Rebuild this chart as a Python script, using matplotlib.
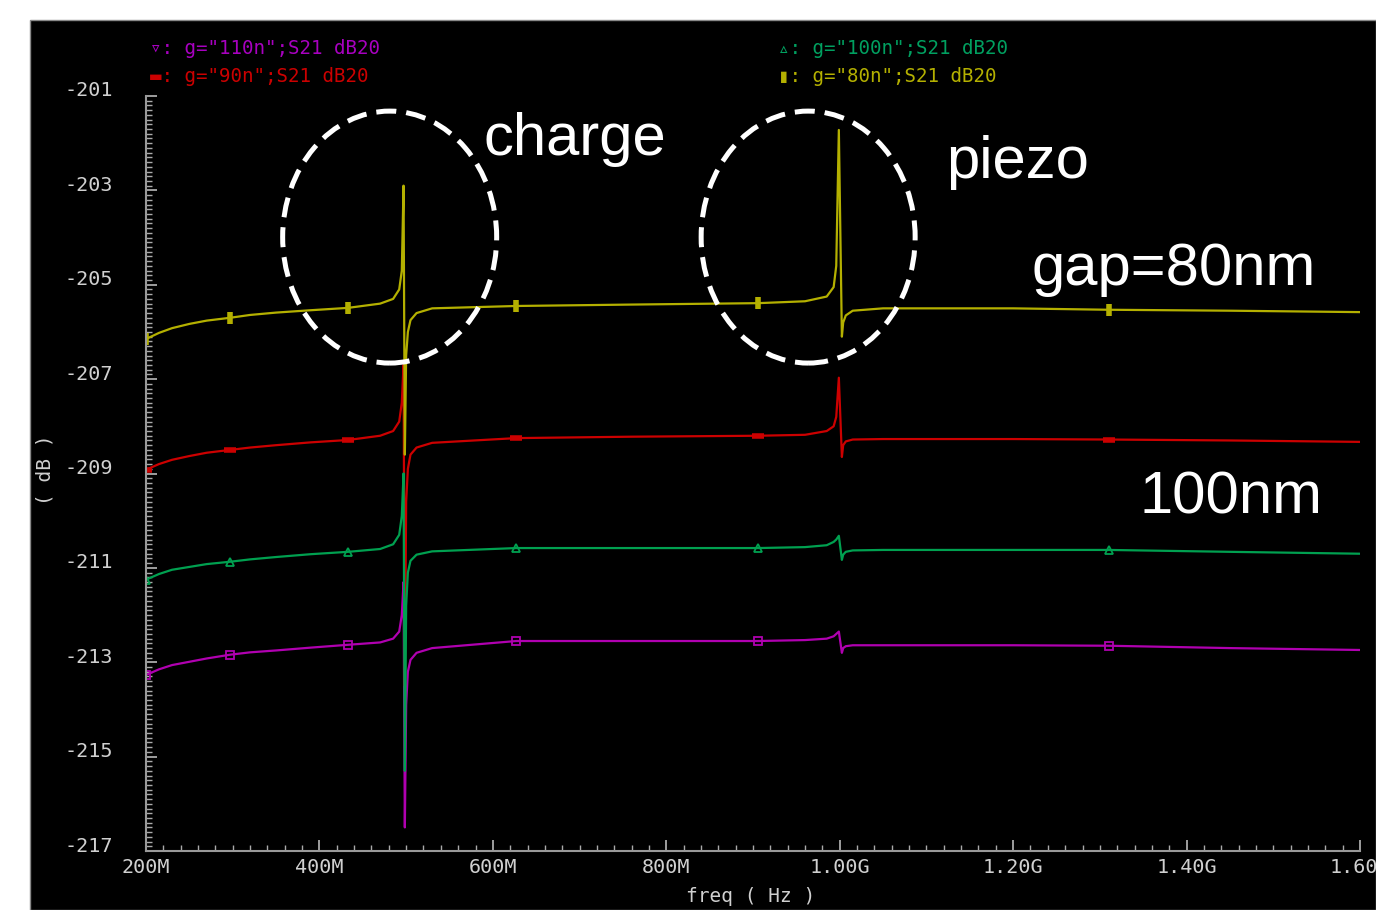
import numpy as np
import matplotlib.pyplot as plt
from matplotlib.patches import Ellipse, Rectangle
from matplotlib.transforms import ScaledTranslation

# frequency grid (MHz)
freq_mhz = [200, 215, 230, 250, 270, 297, 320, 350, 390, 433, 470, 485, 492, 495, 497, 498.5,
            500, 502, 505, 512, 530, 627, 760, 906, 960, 985, 993, 996, 999, 1002.5, 1004, 1007,
            1015, 1050, 1200, 1310, 1450, 1600]

s21_80n = [-206.15, -206.02, -205.92, -205.83, -205.76, -205.70, -205.64, -205.59, -205.54, -205.49,
           -205.40, -205.30, -205.10, -204.70, -202.90, -208.60, -206.50, -206.00, -205.75, -205.60,
           -205.50, -205.45, -205.42, -205.39, -205.35, -205.25, -205.05, -204.60, -201.72, -206.10,
           -205.80, -205.65, -205.55, -205.50, -205.50, -205.53, -205.55, -205.58]
s21_90n = [-208.92, -208.80, -208.71, -208.63, -208.56, -208.50, -208.45, -208.40, -208.34, -208.29,
           -208.20, -208.10, -207.90, -207.50, -206.70, -213.50, -209.60, -208.90, -208.60, -208.45,
           -208.35, -208.25, -208.22, -208.20, -208.18, -208.10, -208.00, -207.80, -206.97, -208.65,
           -208.40, -208.32, -208.28, -208.27, -208.27, -208.28, -208.30, -208.33]
s21_100n = [-211.25, -211.13, -211.04, -210.98, -210.92, -210.87, -210.82, -210.77, -210.71, -210.66,
            -210.60, -210.50, -210.30, -209.90, -209.00, -215.30, -211.80, -211.10, -210.85, -210.72,
            -210.65, -210.58, -210.58, -210.58, -210.56, -210.52, -210.45, -210.40, -210.32, -210.83,
            -210.72, -210.66, -210.63, -210.62, -210.62, -210.62, -210.66, -210.70]
s21_110n = [-213.27, -213.15, -213.06, -212.99, -212.92, -212.84, -212.79, -212.75, -212.69, -212.63,
            -212.58, -212.50, -212.35, -212.00, -211.30, -216.50, -213.90, -213.20, -212.95, -212.80,
            -212.70, -212.55, -212.55, -212.55, -212.53, -212.50, -212.45, -212.40, -212.35, -212.80,
            -212.70, -212.66, -212.64, -212.64, -212.64, -212.65, -212.70, -212.74]

marker_mhz = [200, 297, 433, 627, 906, 1310]

xtick_mhz = [200, 400, 600, 800, 1000, 1200, 1400, 1600]
xtick_labels = ["200M", "400M", "600M", "800M", "1.00G", "1.20G", "1.40G", "1.60G"]
ytick_vals = [-201, -203, -205, -207, -209, -211, -213, -215, -217]

legend_txt = ['▿: g="110n";S21 dB20', '▬: g="90n";S21 dB20',
              '▵: g="100n";S21 dB20', '▮: g="80n";S21 dB20']

W, H = 1376, 910
fig = plt.figure(figsize=(W / 100, H / 100), dpi=100, facecolor="white")
fig.patches.append(Rectangle((30 / W, 0), 1 - 30 / W, 1 - 20 / H, transform=fig.transFigure,
                             facecolor="black", edgecolor="#888888", lw=1, zorder=-1))

ax = fig.add_axes([146 / W, 1 - 851 / H, (1360 - 146) / W, (851 - 96) / H])
ax.set_facecolor("black")

f = np.array(freq_mhz) * 1e6
mk = np.where(np.isin(freq_mhz, marker_mhz))[0]

mono = ["DejaVu Sans Mono", "DejaVu Sans"]

ax.plot(f, s21_110n, color="#b000b0", lw=1.6, marker="s", ms=6, mfc="none", mew=1.3, markevery=mk)
ax.plot(f, s21_90n, color="#cc0000", lw=1.6, marker="_", ms=9, mew=4, markevery=mk)
ax.plot(f, s21_100n, color="#00a050", lw=1.6, marker="^", ms=6, mfc="none", mew=1.3, markevery=mk)
ax.plot(f, s21_80n, color="#b4b000", lw=1.6, marker="|", ms=9, mew=4, markevery=mk)

ax.set_xlim(200e6, 1600e6)
ax.set_ylim(-217, -201)

ax.set_xticks(np.array(xtick_mhz) * 1e6)
ax.set_xticklabels(xtick_labels, family=mono, fontsize=14.5)
ax.set_xticks(np.arange(200, 1601, 20) * 1e6, minor=True)
ax.set_yticks(ytick_vals)
ax.set_yticklabels([str(v) for v in ytick_vals], family=mono, fontsize=14.5)
ax.set_yticks(np.arange(-217, -200.95, 0.1), minor=True)

ax.tick_params(which="both", direction="in", color="#aaaaaa", labelcolor="#d0d0d0")
ax.tick_params(which="major", length=8, width=1.3)
ax.tick_params(which="minor", length=4, width=1)
ax.tick_params(axis="y", pad=24)
ax.tick_params(axis="x", pad=5)
for lab in ax.get_yticklabels():
    lab.set_transform(lab.get_transform() + ScaledTranslation(0, 7 / 100, fig.dpi_scale_trans))

for s in ["top", "right"]:
    ax.spines[s].set_visible(False)
for s in ["left", "bottom"]:
    ax.spines[s].set_color("#999999")
    ax.spines[s].set_linewidth(1.5)

fig.text(45 / W, 1 - 470 / H, "( dB )", rotation=90, color="#d0d0d0", family=mono,
         fontsize=14, ha="center", va="center")
fig.text(751 / W, 1 - 897 / H, "freq ( Hz )", color="#d0d0d0", family=mono,
         fontsize=14, ha="center", va="center")

# legend lines at the top
leg_pos = [(150, 48), (150, 77), (778, 48), (778, 77)]
leg_col = ["#a800c0", "#cc0000", "#00a060", "#b4b000"]
for t, (px, py), c in zip(legend_txt, leg_pos, leg_col):
    fig.text(px / W, 1 - py / H, t, color=c, family=mono, fontsize=13.8, ha="left", va="center")

# dashed circles round the two resonances
for cx in [481e6, 963.6e6]:
    ax.add_patch(Ellipse((cx, -203.99), 246.8e6, 5.34, fill=False, edgecolor="white",
                         lw=3.6, ls=(0, (4, 2)), clip_on=False, zorder=5))

big = dict(color="white", family="Liberation Sans", fontsize=43, ha="left", va="baseline")
fig.text(483 / W, 1 - 155 / H, "charge", **big)
fig.text(946 / W, 1 - 178 / H, "piezo", **big)
fig.text(1032 / W, 1 - 285 / H, "gap=80nm", **big)
fig.text(1140 / W, 1 - 513 / H, "100nm", **big)

fig.savefig("out.png", dpi=100, facecolor="white")
